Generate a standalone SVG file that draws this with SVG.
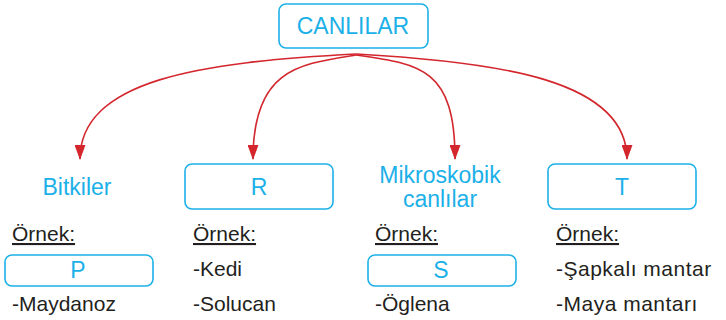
<svg xmlns="http://www.w3.org/2000/svg" width="726" height="320" viewBox="0 0 726 320">
<defs>
<style>
.box{fill:#fff;stroke:#1cb0e8;stroke-width:1.6}
.bl{font-family:"Liberation Sans",Arial,sans-serif;font-size:23px;fill:#1cb0e8;text-anchor:middle}
.tx{font-family:"Liberation Sans",Arial,sans-serif;font-size:21px;fill:#231f20}
.u{text-decoration:underline}
.c{fill:none;stroke:#d3262d;stroke-width:1.6}
</style>
<marker id="ah" viewBox="0 0 15 11" refX="14" refY="5.5" markerWidth="15" markerHeight="11" markerUnits="userSpaceOnUse" orient="auto">
<path d="M0,0 L15,5.5 L0,11 Z" fill="#d3262d"/>
</marker>
</defs>
<rect width="726" height="320" fill="#fff"/>
<g id="canlilar">
<rect class="box" x="279" y="4" width="149" height="44" rx="7"/>
<text class="bl" x="353" y="34">CANLILAR</text>
</g>
<g id="connectors">
<path class="c" marker-end="url(#ah)" d="M356,54 C200,62 80,80 80,159"/>
<path class="c" marker-end="url(#ah)" d="M356,55 C300,64 253,68 253,159"/>
<path class="c" marker-end="url(#ah)" d="M356,55 C420,64 455,68 455,159"/>
<path class="c" marker-end="url(#ah)" d="M356,54 C500,62 627,80 627,159"/>
</g>
<g id="bitkiler">
<text class="bl" x="77" y="195">Bitkiler</text>
<text class="tx u" x="12" y="241">Örnek:</text>
<rect class="box" x="5" y="255" width="148" height="31" rx="7"/>
<text class="bl" x="78" y="278">P</text>
<text class="tx" x="12" y="311">-Maydanoz</text>
</g>
<g id="r">
<rect class="box" x="185" y="164" width="148" height="45" rx="7"/>
<text class="bl" x="259" y="195">R</text>
<text class="tx u" x="193" y="241">Örnek:</text>
<text class="tx" x="193" y="276">-Kedi</text>
<text class="tx" x="193" y="311">-Solucan</text>
</g>
<g id="mikroskobik">
<text class="bl" x="440" y="183">Mikroskobik</text>
<text class="bl" x="440" y="207">canlılar</text>
<text class="tx u" x="375" y="241">Örnek:</text>
<rect class="box" x="368" y="255" width="148" height="31" rx="7"/>
<text class="bl" x="441" y="278">S</text>
<text class="tx" x="375" y="311">-Öglena</text>
</g>
<g id="t">
<rect class="box" x="548" y="164" width="148" height="45" rx="7"/>
<text class="bl" x="622" y="195">T</text>
<text class="tx u" x="556" y="241">Örnek:</text>
<text class="tx" x="556" y="276" letter-spacing="0.5">-Şapkalı mantar</text>
<text class="tx" x="556" y="311" letter-spacing="0.5">-Maya mantarı</text>
</g>
</svg>
